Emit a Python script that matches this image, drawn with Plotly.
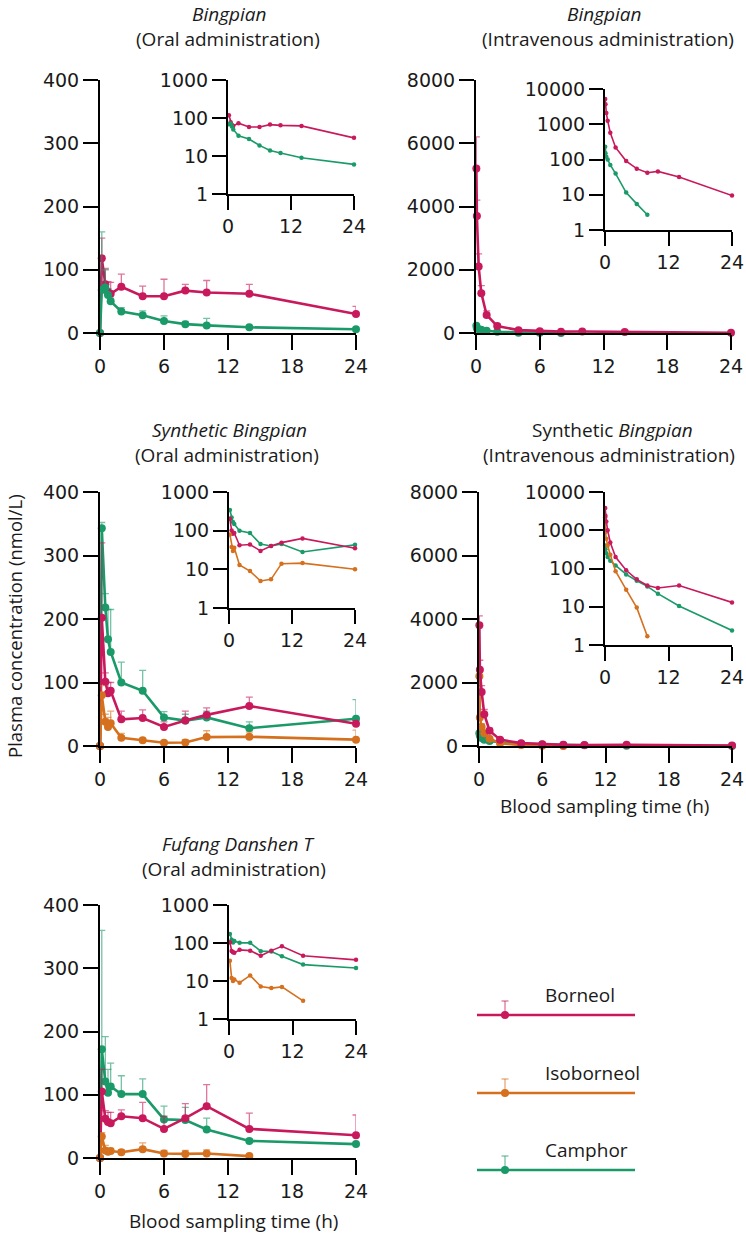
import plotly.graph_objects as go

W, H = 746, 1236

# ---------------- data ----------------
T_ORAL = [0, 0.167, 0.5, 0.75, 1, 2, 4, 6, 8, 10, 14, 24]
T_IV = [0.033, 0.083, 0.25, 0.5, 1, 2, 4, 6, 8, 10, 14, 24]

SERIES = ["Borneol", "Isoborneol", "Camphor"]

# Panel 1: Bingpian, oral
p1_borneol = [0, 118, 77, 65, 62, 73, 58, 58, 67, 64, 62, 30]
p1_borneol_top = [0, 150, 102, 81, 80, 93, 74, 85, 77, 83, 77, 42]
p1_camphor = [0, 68, 72, 60, 50, 34, 28, 19, 14, 12, 9, 6]
p1_camphor_top = [0, 160, 100, 70, 55, 40, 35, 27, 18.5, 23, 10, 8]

# Panel 2: Bingpian, intravenous
p2_borneol = [5200, 3700, 2100, 1260, 570, 220, 90, 55, 42, 46, 32, 9.5]
p2_borneol_top = [6200, 4200, 2500, 1500, 700, 280, 120, 70, 55, 60, 45, 15]
p2_camphor = [230, 150, 120, 100, 70, 40, 11.5, 5.5, 2.7, None, None, None]
p2_camphor_top = [260, 170, 140, 115, 80, 48, 14, 7, 3.5, None, None, None]

# Panel 3: Synthetic Bingpian, oral
p3_borneol = [0, 202, 101, 83, 87, 42, 44, 30, 40, 49, 63, 35]
p3_borneol_top = [0, 320, 115, 100, 100, 55, 57, 38, 55, 60, 77, 40]
p3_isoborneol = [0, 80, 38, 30, 36, 13, 9, 5, 5.5, 14, 14.5, 10]
p3_isoborneol_top = [0, 95, 50, 45, 55, 20, 12, 8, 10, 24, 22, 25]
p3_camphor = [0, 343, 218, 168, 148, 100, 87, 45, 40, 45, 28, 43]
p3_camphor_top = [0, 352, 240, 215, 215, 132, 119, 54, 50, 55, 38, 73]

# Panel 4: Synthetic Bingpian, intravenous
p4_borneol = [3800, 2400, 1700, 1000, 480, 200, 90, 52, 36, 31, 36, 13]
p4_borneol_top = [4100, 2700, 1900, 1150, 560, 240, 110, 62, 44, 38, 44, 17]
p4_isoborneol = [2200, 900, 600, 400, 230, 85, 28, 9.5, 1.7, None, None, None]
p4_isoborneol_top = [2400, 1050, 700, 470, 280, 100, 35, 12, 2.5, None, None, None]
p4_camphor = [400, 320, 250, 200, 160, 120, 70, 48, 34, 22, 10.5, 2.4]
p4_camphor_top = [480, 380, 300, 240, 190, 140, 85, 58, 40, 27, 13, 3]

# Panel 5: Fufang Danshen T, oral
p5_borneol = [0, 105, 62, 57, 55, 66, 63, 46, 63, 82, 46, 36]
p5_borneol_top = [0, 140, 75, 72, 72, 76, 88, 66, 86, 116, 71, 68]
p5_isoborneol = [0, 34, 12, 10, 11, 9, 14, 7.2, 6.5, 7, 3, None]
p5_isoborneol_top = [0, 40, 20, 14, 15, 13, 24, 12, 12, 13, 5, None]
p5_camphor = [0, 172, 121, 103, 113, 101, 101, 61, 60, 45, 27, 22]
p5_camphor_top = [0, 360, 192, 140, 150, 130, 125, 82, 80, 63, 30, 24]

MAIN_X_TICKS = [0, 6, 12, 18, 24]
INSET_X_TICKS = [0, 12, 24]
ORAL_Y_TICKS = [0, 100, 200, 300, 400]
IV_Y_TICKS = [0, 2000, 4000, 6000, 8000]
LOG_TICKS_3 = [1, 10, 100, 1000]
LOG_TICKS_4 = [1, 10, 100, 1000, 10000]

# ---------------- styles ----------------
COLORS = {"Borneol": "#C8195C", "Isoborneol": "#D5701E", "Camphor": "#1B9A69"}
ERRCOL = {"Borneol": "rgba(200,25,92,0.6)", "Isoborneol": "rgba(213,112,30,0.6)",
          "Camphor": "rgba(27,154,105,0.6)"}
TEXT_FONT = "Open Sans"
TICK_FONT = "DejaVu Sans"
TICK_SIZE = 19

panels = [
    dict(t=T_ORAL, ymax=400, yticks=ORAL_Y_TICKS, logmax=3, logticks=LOG_TICKS_3,
         series=[("Borneol", p1_borneol, p1_borneol_top), ("Camphor", p1_camphor, p1_camphor_top)],
         main=(100, 356, 80, 333), inset=(228, 354, 80, 194)),
    dict(t=T_IV, ymax=8000, yticks=IV_Y_TICKS, logmax=4, logticks=LOG_TICKS_4,
         series=[("Camphor", p2_camphor, p2_camphor_top), ("Borneol", p2_borneol, p2_borneol_top)],
         main=(476, 731, 80, 333), inset=(605, 732, 89, 230)),
    dict(t=T_ORAL, ymax=400, yticks=ORAL_Y_TICKS, logmax=3, logticks=LOG_TICKS_3,
         series=[("Camphor", p3_camphor, p3_camphor_top), ("Borneol", p3_borneol, p3_borneol_top),
                 ("Isoborneol", p3_isoborneol, p3_isoborneol_top)],
         main=(100, 356, 492, 746), inset=(229, 355, 492, 608)),
    dict(t=T_IV, ymax=8000, yticks=IV_Y_TICKS, logmax=4, logticks=LOG_TICKS_4,
         series=[("Camphor", p4_camphor, p4_camphor_top), ("Isoborneol", p4_isoborneol, p4_isoborneol_top),
                 ("Borneol", p4_borneol, p4_borneol_top)],
         main=(479, 732, 492, 746), inset=(605, 732, 492, 645)),
    dict(t=T_ORAL, ymax=400, yticks=ORAL_Y_TICKS, logmax=3, logticks=LOG_TICKS_3,
         series=[("Camphor", p5_camphor, p5_camphor_top), ("Borneol", p5_borneol, p5_borneol_top),
                 ("Isoborneol", p5_isoborneol, p5_isoborneol_top)],
         main=(100, 356, 905, 1158), inset=(229, 356, 905, 1019)),
]


def xdom(a, b):
    return [a / W, b / W]


def ydom(top, bottom):
    return [1 - bottom / H, 1 - top / H]


fig = go.Figure()
layout = {}


def axis_common(fs):
    return dict(showline=True, linecolor="black", linewidth=2, ticks="outside",
                tickcolor="black", tickwidth=2, showgrid=False, zeroline=False,
                automargin=False,
                tickfont=dict(family=TICK_FONT, size=fs, color="#1a1a1a"))


for i, p in enumerate(panels):
    mi = i + 1
    ii = i + 6
    # main axes
    xa = axis_common(TICK_SIZE)
    xa.update(domain=xdom(p["main"][0], p["main"][1]), range=[0, 24], tickvals=MAIN_X_TICKS,
              ticklen=15, anchor="y%d" % mi if mi > 1 else "y")
    ya = axis_common(TICK_SIZE)
    ya.update(domain=ydom(p["main"][2], p["main"][3]), range=[0, p["ymax"]], tickvals=p["yticks"],
              ticklen=15, anchor="x%d" % mi if mi > 1 else "x")
    layout["xaxis" if mi == 1 else "xaxis%d" % mi] = xa
    layout["yaxis" if mi == 1 else "yaxis%d" % mi] = ya
    # inset axes
    xi = axis_common(TICK_SIZE)
    xi.update(domain=xdom(p["inset"][0], p["inset"][1]), range=[0, 24], tickvals=INSET_X_TICKS,
              ticklen=14, anchor="y%d" % ii)
    yi = axis_common(TICK_SIZE)
    yi.update(domain=ydom(p["inset"][2], p["inset"][3]), type="log", range=[0, p["logmax"]],
              tickvals=p["logticks"], ticktext=[str(v) for v in p["logticks"]],
              ticklen=14, anchor="x%d" % ii)
    layout["xaxis%d" % ii] = xi
    layout["yaxis%d" % ii] = yi

    xr = "x" if mi == 1 else "x%d" % mi
    yr = "y" if mi == 1 else "y%d" % mi
    for name, vals, tops in p["series"]:
        up = [(tp - v) if (v is not None and tp is not None) else None for v, tp in zip(vals, tops)]
        fig.add_trace(go.Scatter(
            x=p["t"], y=vals, mode="lines+markers", xaxis=xr, yaxis=yr, showlegend=False,
            line=dict(color=COLORS[name], width=2.6), marker=dict(color=COLORS[name], size=8),
            cliponaxis=False,
            error_y=dict(type="data", symmetric=False, array=up, arrayminus=[0] * len(up),
                         color=ERRCOL[name], thickness=1.3, width=3.5),
        ))
        xs = [t for t, v in zip(p["t"], vals) if v is not None and v > 0]
        ys = [v for v in vals if v is not None and v > 0]
        fig.add_trace(go.Scatter(
            x=xs, y=ys, mode="lines+markers", xaxis="x%d" % ii, yaxis="y%d" % ii, showlegend=False,
            line=dict(color=COLORS[name], width=1.6), marker=dict(color=COLORS[name], size=4.5),
            cliponaxis=False,
        ))

# ---------------- text ----------------
ann = []


def text(x, y, s, size=19, angle=0, xanchor="center"):
    ann.append(dict(x=x / W, y=1 - y / H, xref="paper", yref="paper", text=s, showarrow=False,
                    xanchor=xanchor, yanchor="middle", textangle=angle,
                    font=dict(family=TEXT_FONT, size=size, color="#1a1a1a")))


text(229, 14, "<i>Bingpian</i>")
text(228, 39, "(Oral administration)")
text(604, 14, "<i>Bingpian</i>")
text(608, 39, "(Intravenous administration)")
text(229, 430, "<i>Synthetic Bingpian</i>")
text(227, 455, "(Oral administration)")
text(612, 430, "Synthetic <i>Bingpian</i>")
text(609, 455, "(Intravenous administration)")
text(238, 844, "<i>Fufang Danshen T</i>")
text(234, 869, "(Oral administration)")
text(604, 806, "Blood sampling time (h)")
text(233, 1221, "Blood sampling time (h)")
text(14, 626, "Plasma concentration (nmol/L)", size=18.5, angle=-90)

# ---------------- custom legend ----------------
shapes = []
LEG_Y = {"Borneol": 1015, "Isoborneol": 1093, "Camphor": 1170}
for name in SERIES:
    ly = LEG_Y[name]
    c = COLORS[name]
    shapes.append(dict(type="line", xref="paper", yref="paper", x0=477 / W, x1=635 / W,
                       y0=1 - ly / H, y1=1 - ly / H, line=dict(color=c, width=2.6)))
    shapes.append(dict(type="line", xref="paper", yref="paper", x0=505 / W, x1=505 / W,
                       y0=1 - ly / H, y1=1 - (ly - 14) / H, line=dict(color=ERRCOL[name], width=1.3)))
    shapes.append(dict(type="line", xref="paper", yref="paper", x0=501.5 / W, x1=508.5 / W,
                       y0=1 - (ly - 14) / H, y1=1 - (ly - 14) / H, line=dict(color=ERRCOL[name], width=1.3)))
    shapes.append(dict(type="circle", xref="paper", yref="paper", x0=501 / W, x1=509 / W,
                       y0=1 - (ly + 4) / H, y1=1 - (ly - 4) / H, fillcolor=c, line=dict(width=0)))
    text(543, ly - 20, name, xanchor="left")

layout.update(width=W, height=H, margin=dict(l=0, r=0, t=0, b=0, pad=0, autoexpand=False),
              paper_bgcolor="white", plot_bgcolor="rgba(0,0,0,0)", showlegend=False,
              annotations=ann, shapes=shapes)
fig.update_layout(**layout)
fig.write_html("out.html", config={"displayModeBar": False},
               post_script="document.body.style.margin='0';document.body.style.padding='0';"
                           "document.documentElement.style.overflow='hidden';")
